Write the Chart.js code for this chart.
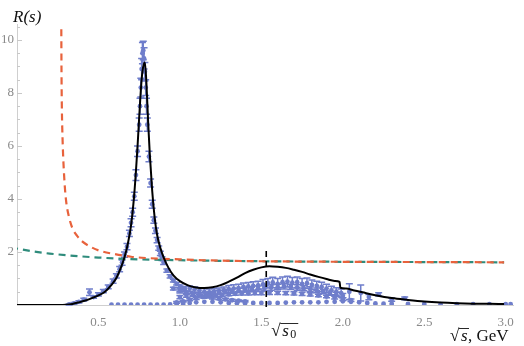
<!DOCTYPE html>
<html>
<head>
<meta charset="utf-8">
<script src="https://cdn.jsdelivr.net/npm/chart.js@4"></script>
<style>
  body { margin: 0; background: #fff; }
  canvas { display: block; }
</style>
</head>
<body>
<canvas id="chart" width="524" height="346"></canvas>
<script>
// model curve (black)
const curveX = [0, 0.28, 0.30, 0.34, 0.38, 0.42, 0.46, 0.50, 0.54, 0.58, 0.61, 0.64, 0.66, 0.68, 0.70, 0.72, 0.74, 0.755, 0.765, 0.775, 0.785, 0.795, 0.805, 0.815, 0.83, 0.845, 0.86, 0.88, 0.90, 0.93, 0.96, 1.00, 1.05, 1.10, 1.15, 1.20, 1.25, 1.30, 1.35, 1.40, 1.45, 1.50, 1.55, 1.60, 1.65, 1.70, 1.75, 1.80, 1.85, 1.90, 1.95, 1.98, 1.985, 2.02, 2.07, 2.12, 2.2, 2.3, 2.4, 2.5, 2.6, 2.7, 2.8, 2.9, 2.99];
const curveY = [0, 0, 0.005, 0.04, 0.1, 0.17, 0.26, 0.36, 0.5, 0.76, 1.02, 1.45, 1.8, 2.3, 3.0, 4.2, 6.0, 7.6, 8.5, 9.0, 9.15, 8.3, 6.9, 5.7, 4.3, 3.3, 2.65, 2.15, 1.8, 1.4, 1.12, 0.9, 0.74, 0.66, 0.64, 0.67, 0.75, 0.88, 1.03, 1.2, 1.33, 1.42, 1.46, 1.44, 1.40, 1.33, 1.25, 1.15, 1.06, 0.98, 0.91, 0.87, 0.65, 0.62, 0.55, 0.48, 0.37, 0.26, 0.19, 0.13, 0.09, 0.065, 0.05, 0.045, 0.04];

// dashed curves
const redX = [0.272, 0.273, 0.275, 0.28, 0.29, 0.30, 0.32, 0.34, 0.37, 0.40, 0.45, 0.50, 0.6, 0.7, 0.8, 1.0, 1.2, 1.5, 2.0, 2.5, 2.99];
const redY = [10.4, 9.0, 7.6, 6.2, 4.8, 4.0, 3.3, 2.9, 2.6, 2.4, 2.2, 2.06, 1.92, 1.82, 1.77, 1.72, 1.68, 1.65, 1.63, 1.62, 1.61];
const greenX = [0, 0.1, 0.2, 0.3, 0.4, 0.5, 0.7, 1.0, 1.5, 2.0, 2.5, 2.99];
const greenY = [2.13, 2.02, 1.94, 1.88, 1.83, 1.79, 1.73, 1.69, 1.65, 1.63, 1.62, 1.61];

// data around the rho peak
const rhoX = [0.32, 0.35, 0.38, 0.41, 0.445, 0.47, 0.50, 0.53, 0.56, 0.59, 0.61, 0.63, 0.645, 0.66, 0.675, 0.69, 0.70, 0.71, 0.72, 0.73, 0.74, 0.75, 0.755, 0.76, 0.765, 0.77, 0.775, 0.78, 0.785, 0.79, 0.795, 0.80, 0.81, 0.82, 0.83, 0.84, 0.85, 0.86, 0.87, 0.88, 0.89, 0.90, 0.92, 0.94, 0.96, 0.98, 1.00, 1.02];
const rhoY = [0.02, 0.06, 0.12, 0.2, 0.48, 0.3, 0.4, 0.52, 0.68, 0.9, 1.1, 1.35, 1.6, 1.9, 2.2, 2.7, 3.1, 3.5, 4.1, 4.9, 5.8, 6.8, 7.5, 8.2, 8.9, 9.5, 9.6, 9.3, 8.8, 8.2, 7.5, 6.8, 5.6, 4.6, 3.8, 3.2, 2.8, 2.45, 2.15, 1.95, 1.75, 1.6, 1.3, 1.08, 0.92, 0.8, 0.7, 0.62];
const rhoErr = [0.02, 0.03, 0.04, 0.05, 0.12, 0.05, 0.06, 0.06, 0.07, 0.08, 0.08, 0.1, 0.1, 0.1, 0.12, 0.12, 0.15, 0.15, 0.15, 0.2, 0.2, 0.25, 0.3, 0.35, 0.4, 0.4, 0.35, 0.4, 0.35, 0.3, 0.3, 0.25, 0.2, 0.15, 0.15, 0.12, 0.1, 0.1, 0.08, 0.08, 0.07, 0.07, 0.06, 0.06, 0.05, 0.05, 0.05, 0.05];

// low band near zero
const lowX = [0.58, 0.62, 0.66, 0.70, 0.74, 0.78, 0.82, 0.86, 0.90, 0.94, 0.98, 1.02, 1.06, 1.10, 1.15, 1.20, 1.25, 1.30, 1.35, 1.40, 1.45, 1.50, 1.55, 1.60, 1.65, 1.70, 1.75, 1.80, 1.85, 1.90, 1.95, 2.00, 2.05, 2.10, 2.15, 2.20, 2.25, 2.30, 2.40, 2.50, 2.60, 2.70, 2.80, 2.90, 3.00, 3.03];
const lowY = [0.01, 0.01, 0.01, 0.01, 0.01, 0.01, 0.01, 0.01, 0.01, 0.02, 0.03, 0.05, 0.08, 0.1, 0.12, 0.12, 0.1, 0.08, 0.07, 0.07, 0.08, 0.08, 0.08, 0.08, 0.09, 0.1, 0.1, 0.1, 0.1, 0.12, 0.12, 0.14, 0.12, 0.1, 0.08, 0.06, 0.05, 0.05, 0.04, 0.04, 0.03, 0.03, 0.03, 0.03, 0.03, 0.03];

// middle band (top of the lens)
const midX = [0.98, 1.02, 1.06, 1.10, 1.14, 1.18, 1.22, 1.26, 1.30, 1.34, 1.38, 1.42, 1.46, 1.50, 1.55, 1.60, 1.65, 1.70, 1.75, 1.80, 1.85, 1.90, 1.95, 2.00, 2.05];
const midY = [0.1, 0.14, 0.2, 0.25, 0.3, 0.33, 0.36, 0.38, 0.4, 0.42, 0.43, 0.44, 0.45, 0.45, 0.46, 0.46, 0.45, 0.44, 0.42, 0.4, 0.36, 0.32, 0.28, 0.22, 0.18];
const midErr = [0.03, 0.03, 0.04, 0.04, 0.04, 0.05, 0.05, 0.05, 0.05, 0.05, 0.05, 0.06, 0.06, 0.06, 0.06, 0.06, 0.06, 0.06, 0.06, 0.06, 0.05, 0.05, 0.05, 0.05, 0.05];

// descending band
const descX = [0.96, 1.00, 1.04, 1.08, 1.12, 1.16, 1.20, 1.24, 1.28, 1.32, 1.36, 1.40];
const descY = [0.62, 0.55, 0.48, 0.42, 0.36, 0.31, 0.27, 0.24, 0.21, 0.18, 0.16, 0.14];
const descErr = [0.05, 0.05, 0.05, 0.05, 0.04, 0.04, 0.04, 0.04, 0.04, 0.04, 0.03, 0.03];

// second band
const secX = [1.00, 1.04, 1.08, 1.12, 1.16, 1.20, 1.24, 1.28, 1.32, 1.36, 1.40, 1.44, 1.48, 1.52, 1.56, 1.60, 1.64, 1.68, 1.72, 1.76, 1.80, 1.84, 1.88, 1.92, 1.96, 2.00];
const secY = [0.3, 0.35, 0.38, 0.4, 0.42, 0.45, 0.48, 0.5, 0.52, 0.55, 0.58, 0.6, 0.62, 0.65, 0.66, 0.68, 0.7, 0.68, 0.66, 0.64, 0.6, 0.55, 0.5, 0.45, 0.4, 0.35];
const secErr = [0.06, 0.06, 0.06, 0.07, 0.07, 0.07, 0.08, 0.08, 0.08, 0.08, 0.09, 0.09, 0.1, 0.1, 0.1, 0.1, 0.1, 0.1, 0.1, 0.1, 0.09, 0.09, 0.08, 0.08, 0.08, 0.08];

// upper cluster with large errors
const upX = [1.00, 1.03, 1.06, 1.09, 1.12, 1.15, 1.18, 1.21, 1.24, 1.27, 1.30, 1.33, 1.36, 1.39, 1.42, 1.45, 1.48, 1.51, 1.54, 1.57, 1.60, 1.63, 1.66, 1.69, 1.72, 1.75, 1.78, 1.81, 1.84, 1.87, 1.90, 1.93, 1.96, 1.99, 2.04, 2.11, 2.16, 2.22, 2.30, 2.38];
const upY = [0.55, 0.6, 0.62, 0.58, 0.55, 0.5, 0.48, 0.5, 0.52, 0.56, 0.6, 0.62, 0.64, 0.68, 0.7, 0.72, 0.74, 0.78, 0.82, 0.85, 0.8, 0.86, 0.88, 0.84, 0.86, 0.8, 0.82, 0.76, 0.72, 0.68, 0.62, 0.55, 0.5, 0.45, 0.5, 0.45, 0.3, 0.4, 0.2, 0.25];
const upErr = [0.1, 0.1, 0.1, 0.1, 0.1, 0.12, 0.12, 0.12, 0.12, 0.12, 0.14, 0.14, 0.14, 0.15, 0.15, 0.16, 0.16, 0.18, 0.18, 0.2, 0.2, 0.2, 0.2, 0.2, 0.2, 0.2, 0.2, 0.18, 0.18, 0.18, 0.16, 0.16, 0.15, 0.15, 0.3, 0.3, 0.1, 0.06, 0.06, 0.05];

// threshold line sqrt(s0)
const s0X = [1.53, 1.53];
const s0Y = [-0.08, 2.05];

const xTicks = [0.5, 1.0, 1.5, 2.0, 2.5, 3.0];
const yLabels = [2, 4, 6, 8, 10];

const BLUE = '#6f7ecb';
const SERIF = '"Liberation Serif", "DejaVu Serif", serif';
const pts = (xs, ys) => xs.map((x, i) => ({ x: x, y: ys[i] }));

function dataSet(xs, ys, err) {
    return {
        data: pts(xs, ys),
        err: err,
        showLine: false,
        pointRadius: 2.4,
        pointBorderWidth: 0,
        pointBackgroundColor: BLUE,
        order: 5
    };
}

// error bars with caps
const errorBars = {
    id: 'errorBars',
    beforeDatasetsDraw(chart) {
        const ctx = chart.ctx;
        const xs = chart.scales.x, ys = chart.scales.y;
        ctx.save();
        ctx.strokeStyle = BLUE;
        ctx.lineWidth = 1.5;
        chart.data.datasets.forEach(ds => {
            if (!ds.err) return;
            ds.data.forEach((p, i) => {
                const e = ds.err[i];
                const px = xs.getPixelForValue(p.x);
                const y1 = ys.getPixelForValue(p.y - e);
                const y2 = ys.getPixelForValue(p.y + e);
                ctx.beginPath();
                ctx.moveTo(px, y1); ctx.lineTo(px, y2);
                ctx.moveTo(px - 3.5, y1); ctx.lineTo(px + 3.5, y1);
                ctx.moveTo(px - 3.5, y2); ctx.lineTo(px + 3.5, y2);
                ctx.stroke();
            });
        });
        ctx.restore();
    }
};

// inside ticks on y axis and text labels
const decor = {
    id: 'decor',
    afterDraw(chart) {
        const ctx = chart.ctx;
        const ys = chart.scales.y, xs = chart.scales.x;
        const left = chart.chartArea.left;
        ctx.save();
        ctx.strokeStyle = '#c8c8c8';
        ctx.lineWidth = 1;
        for (let v = 0.5; v <= 10.5; v += 0.5) {
            const py = Math.round(ys.getPixelForValue(v)) + 0.5;
            const len = (v % 2 === 0) ? 5 : 3;
            ctx.beginPath();
            ctx.moveTo(left, py); ctx.lineTo(left + len, py);
            ctx.stroke();
        }
        ctx.fillStyle = '#111';
        ctx.strokeStyle = '#111';
        ctx.textBaseline = 'alphabetic';
        ctx.font = 'italic 17px ' + SERIF;
        ctx.fillText('R(s)', 13, 22);

        // sqrt(s), GeV
        ctx.font = '17px ' + SERIF;
        ctx.fillText('\u221A', 450, 341);
        ctx.font = 'italic 17px ' + SERIF;
        ctx.fillText('s', 461, 341);
        ctx.beginPath();
        ctx.lineWidth = 0.9;
        ctx.moveTo(459, 328.5); ctx.lineTo(469, 328.5);
        ctx.stroke();
        ctx.font = '17px ' + SERIF;
        ctx.fillText(', GeV', 468, 341);

        // sqrt(s0)
        const sx = xs.getPixelForValue(1.53) + 5;
        ctx.font = '17px ' + SERIF;
        ctx.fillText('\u221A', sx, 336);
        ctx.font = 'italic 17px ' + SERIF;
        ctx.fillText('s', sx + 11, 336);
        ctx.font = '12px ' + SERIF;
        ctx.fillText('0', sx + 19, 338);
        ctx.beginPath();
        ctx.moveTo(sx + 9, 323.5); ctx.lineTo(sx + 27, 323.5);
        ctx.stroke();
        ctx.restore();
    }
};

const ctx = document.getElementById('chart').getContext('2d');
new Chart(ctx, {
    type: 'scatter',
    data: {
        datasets: [
            {
                data: pts(curveX, curveY),
                showLine: true,
                borderColor: '#000',
                borderWidth: 2,
                pointRadius: 0,
                cubicInterpolationMode: 'monotone',
                order: 1
            },
            {
                data: pts(redX, redY),
                showLine: true,
                borderColor: '#e8623c',
                borderWidth: 2.2,
                borderDash: [7, 5],
                pointRadius: 0,
                cubicInterpolationMode: 'monotone',
                order: 2
            },
            {
                data: pts(greenX, greenY),
                showLine: true,
                borderColor: '#2f8c7c',
                borderWidth: 2.2,
                borderDash: [7, 5],
                borderDashOffset: 6,
                pointRadius: 0,
                cubicInterpolationMode: 'monotone',
                order: 3
            },
            {
                data: pts(s0X, s0Y),
                showLine: true,
                borderColor: '#000',
                borderWidth: 1.6,
                borderDash: [6, 4],
                pointRadius: 0,
                clip: false,
                order: 0
            },
            dataSet(lowX, lowY, null),
            dataSet(midX, midY, midErr),
            dataSet(descX, descY, descErr),
            dataSet(secX, secY, secErr),
            dataSet(upX, upY, upErr),
            dataSet(rhoX, rhoY, rhoErr)
        ]
    },
    options: {
        responsive: false,
        animation: false,
        layout: { padding: { top: 24, right: 9, left: 0, bottom: 0 } },
        plugins: { legend: { display: false }, tooltip: { enabled: false } },
        scales: {
            x: {
                type: 'linear',
                min: 0,
                max: 3.05,
                afterFit(scale) { scale.height = 41; },
                afterBuildTicks(scale) { scale.ticks = xTicks.map(v => ({ value: v })); },
                grid: { display: false, drawTicks: false },
                border: { display: true, color: '#cfcfcf', width: 1 },
                ticks: {
                    padding: 10,
                    color: '#8a8a8a',
                    font: { family: SERIF, size: 13 },
                    callback: v => v.toFixed(1)
                }
            },
            y: {
                type: 'linear',
                min: 0,
                max: 10.6,
                afterFit(scale) { scale.width = 17; },
                afterBuildTicks(scale) { scale.ticks = yLabels.map(v => ({ value: v })); },
                grid: { display: false, drawTicks: false },
                border: { display: true, color: '#cfcfcf', width: 1 },
                ticks: {
                    padding: 3,
                    color: '#8a8a8a',
                    font: { family: SERIF, size: 13 },
                    callback: v => String(v)
                }
            }
        }
    },
    plugins: [errorBars, decor]
});
</script>
</body>
</html>
